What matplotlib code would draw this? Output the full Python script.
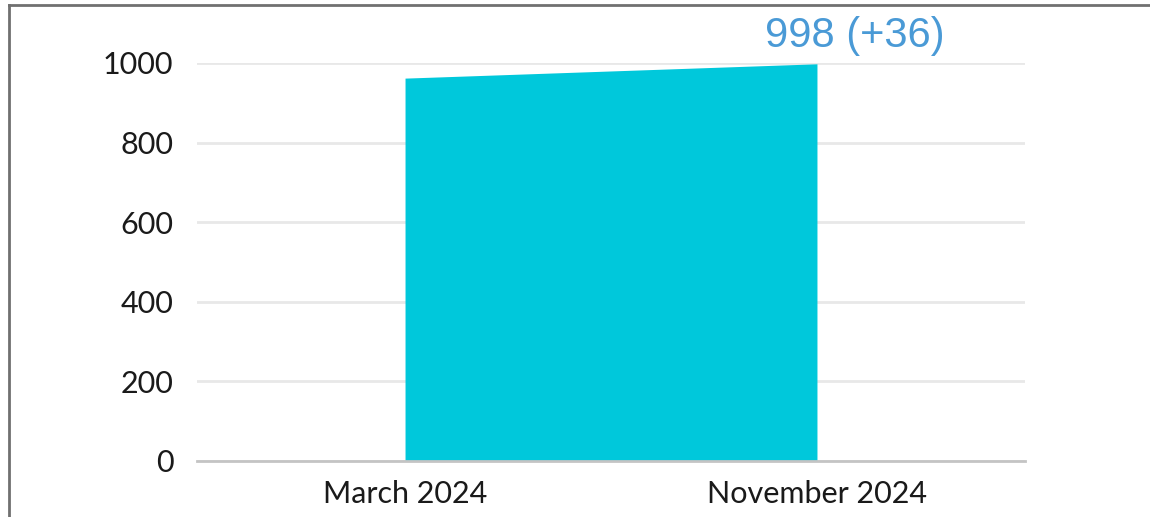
import matplotlib
matplotlib.use("Agg")
import matplotlib.pyplot as plt
from matplotlib.lines import Line2D

categories = ["March 2024", "November 2024"]
values = [962, 998]
yticks = [0, 200, 400, 600, 800, 1000]
label_text = "998 (+36)"

W, H = 1150, 517
fig = plt.figure(figsize=(W / 100, H / 100), dpi=100)
fig.patch.set_facecolor("white")

# axes placement (pixels -> fraction)
left, right = 197 / W, 1025 / W
bottom, top = (H - 461) / H, (H - 63) / H
ax = fig.add_axes([left, bottom, right - left, top - bottom])

x = list(range(len(categories)))
ax.fill_between(x, values, 0, color="#00C8DB", linewidth=0, zorder=2)

ax.set_xlim(-0.505, 1.505)
ax.set_ylim(0, 1000)
ax.set_yticks(yticks)
ax.set_yticklabels([str(t) for t in yticks], family="Lato", fontsize=22, color="#1a1a1a")
ax.set_xticks(x)
ax.set_xticklabels(categories, family="Lato", fontsize=22, color="#1a1a1a")
ax.tick_params(axis="both", length=0)
ax.tick_params(axis="y", pad=17)
ax.tick_params(axis="x", pad=14)

for s in ["top", "right", "left"]:
    ax.spines[s].set_visible(False)
ax.spines["bottom"].set_color("#c4c4c4")
ax.spines["bottom"].set_linewidth(2)
ax.spines["bottom"].set_zorder(3)
ax.grid(axis="y", color="#e8e8e8", linewidth=2, zorder=1)
ax.set_axisbelow(True)
ax.set_facecolor("none")

ax.annotate(label_text, xy=(x[-1], values[-1]), xytext=(27, 12),
            textcoords="offset points", ha="center", va="baseline",
            fontsize=30, color="#4A9AD6", family="Liberation Sans",
            annotation_clip=False)

# outer frame lines (top and left)
fig.add_artist(Line2D([9 / W, 9 / W], [0, (H - 5) / H], color="#707070", linewidth=2,
                      transform=fig.transFigure))
fig.add_artist(Line2D([9 / W, 1], [(H - 5) / H, (H - 5) / H], color="#707070", linewidth=2,
                      transform=fig.transFigure))

fig.savefig("out.png", dpi=100, facecolor="white")
